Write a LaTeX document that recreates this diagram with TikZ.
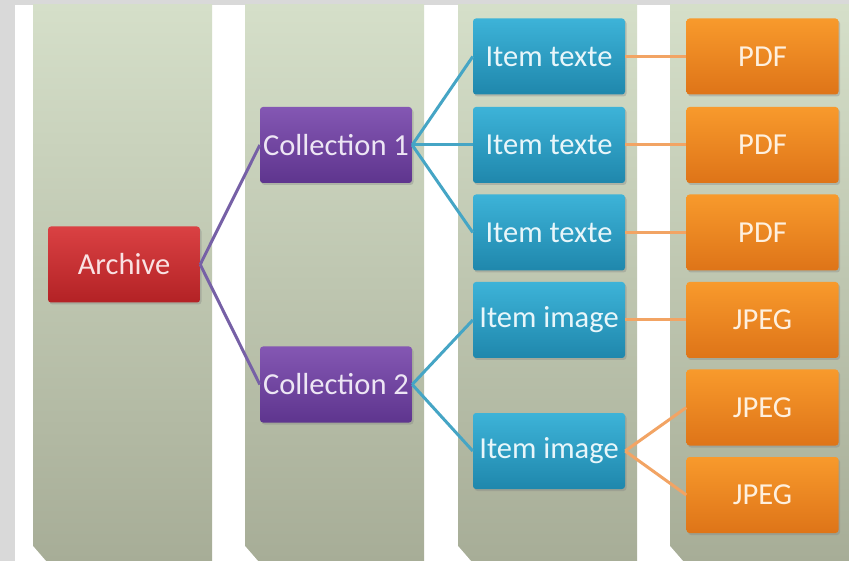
\documentclass[tikz,border=0pt]{standalone}
\usepackage{fontspec}
\setmainfont{Carlito}
\usetikzlibrary{shadows}
\definecolor{colTop}{HTML}{D5DFC9}
\definecolor{colBot}{HTML}{A7AD97}
\definecolor{redT}{HTML}{DA4143}
\definecolor{redB}{HTML}{B32225}
\definecolor{purT}{HTML}{8457B3}
\definecolor{purB}{HTML}{5E358E}
\definecolor{tealT}{HTML}{3DB3D8}
\definecolor{tealB}{HTML}{1F87AC}
\definecolor{orT}{HTML}{F89A2C}
\definecolor{orB}{HTML}{DE7418}
\definecolor{purLine}{HTML}{7660A6}
\definecolor{tealLine}{HTML}{45A5C5}
\definecolor{orLine}{HTML}{F2A464}
\tikzset{
  box/.style={rectangle, rounded corners=3pt, minimum width=152pt, minimum height=76pt,
    inner sep=0pt, font=\fontsize{30.5}{32}\selectfont,
    drop shadow={shadow xshift=1.5pt, shadow yshift=-2pt, opacity=0.35}},
  redbox/.style={box, top color=redT, bottom color=redB, text=white!85!redT},
  purbox/.style={box, top color=purT, bottom color=purB, text=white!85!purT},
  tealbox/.style={box, top color=tealT, bottom color=tealB, text=white!88!tealT},
  orbox/.style={box, top color=orT, bottom color=orB, text=white!85!orT},
  conn/.style={line width=3pt},
  column/.style={top color=colTop, bottom color=colBot}
}
\begin{document}
\begin{tikzpicture}[x=1pt,y=-1pt]
\useasboundingbox (0,0) rectangle (849,561);
\fill[black!15] (0,0) rectangle (849,561);
\fill[white] (15,5) rectangle (847,561);
% columns
\foreach \cx in {33,245,458,670}{
  \shade[column] (\cx,5) rectangle ++(179,556);
  \fill[white] (\cx,546) -- (\cx,561) -- ++(13,0) -- cycle;
}
% nodes
\node[redbox] (archive) at (124,264.5) {Archive};
\node[purbox] (c1) at (336,145) {Collection 1};
\node[purbox] (c2) at (336,384.5) {Collection 2};
\node[tealbox] (t1) at (549,56.5) {Item texte};
\node[tealbox] (t2) at (549,145) {Item texte};
\node[tealbox] (t3) at (549,232.5) {Item texte};
\node[tealbox] (i1) at (549,320) {Item image};
\node[tealbox] (i2) at (549,451) {Item image};
\node[orbox] (p1) at (762.5,56.5) {PDF};
\node[orbox] (p2) at (762.5,145) {PDF};
\node[orbox] (p3) at (762.5,232.5) {PDF};
\node[orbox] (j1) at (762.5,320) {JPEG};
\node[orbox] (j2) at (762.5,407.5) {JPEG};
\node[orbox] (j3) at (762.5,495) {JPEG};
% connectors
\draw[conn, purLine] (archive.east) -- (c1.west);
\draw[conn, purLine] (archive.east) -- (c2.west);
\draw[conn, tealLine] (c1.east) -- (t1.west);
\draw[conn, tealLine] (c1.east) -- (t2.west);
\draw[conn, tealLine] (c1.east) -- (t3.west);
\draw[conn, tealLine] (c2.east) -- (i1.west);
\draw[conn, tealLine] (c2.east) -- (i2.west);
\draw[conn, orLine] (t1.east) -- (p1.west);
\draw[conn, orLine] (t2.east) -- (p2.west);
\draw[conn, orLine] (t3.east) -- (p3.west);
\draw[conn, orLine] (i1.east) -- (j1.west);
\draw[conn, orLine] (i2.east) -- (j2.west);
\draw[conn, orLine] (i2.east) -- (j3.west);
\end{tikzpicture}
\end{document}
